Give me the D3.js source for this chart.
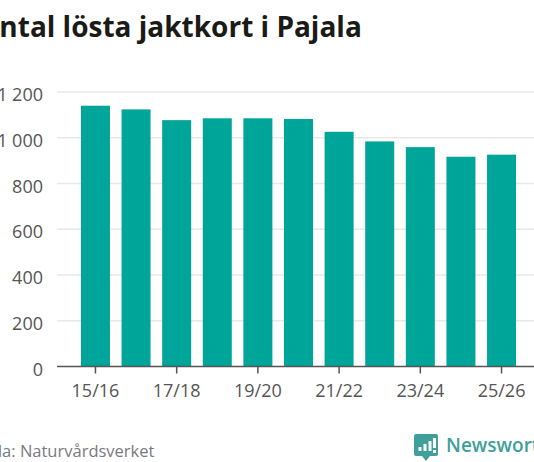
<!DOCTYPE html>
<html>
<head>
<meta charset="utf-8">
<script src="https://cdn.jsdelivr.net/npm/d3@7"></script>
<style>
  html, body { margin: 0; padding: 0; background: #fff; overflow: hidden; }
  text { font-family: "Open Sans", sans-serif; }
</style>
</head>
<body>
<div id="chart"></div>
<script>
var seasons = ['15/16', '16/17', '17/18', '18/19', '19/20', '20/21', '21/22', '22/23', '23/24', '24/25', '25/26']
var tickSeasons = ['15/16', '17/18', '19/20', '21/22', '23/24', '25/26']
var cards = [1140, 1124, 1077, 1085, 1085, 1082, 1026, 984, 959, 917, 926]
var yTicks = [0, 200, 400, 600, 800, 1000, 1200]

var width = 534
var height = 462

var svg = d3
  .select('#chart')
  .append('svg')
  .attr('width', width)
  .attr('height', height)

var x = d3
  .scaleBand()
  .domain(seasons)
  .range([57, 540])
  .paddingInner(0.286)
  .paddingOuter(0.59)

var y = d3
  .scaleLinear()
  .domain([0, 1200])
  .range([366.5, 92])

// gridlines
svg
  .selectAll('.grid')
  .data(yTicks.slice(1))
  .enter()
  .append('line')
  .attr('class', 'grid')
  .attr('x1', 57)
  .attr('x2', width)
  .attr('y1', d => y(d))
  .attr('y2', d => y(d))
  .attr('stroke', '#e9e9e9')
  .attr('stroke-width', 1.5)

// y labels, spaces as thousands separator
svg
  .selectAll('.y-label')
  .data(yTicks)
  .enter()
  .append('text')
  .attr('class', 'y-label')
  .attr('x', 43)
  .attr('y', d => y(d))
  .attr('dy', 9)
  .attr('text-anchor', 'end')
  .attr('font-size', 18)
  .attr('fill', '#555')
  .text(d => d3.format(',')(d).replace(',', ' '))

svg
  .selectAll('.bar')
  .data(cards)
  .enter()
  .append('rect')
  .attr('class', 'bar')
  .attr('x', (d, i) => x(seasons[i]))
  .attr('y', d => y(d))
  .attr('width', x.bandwidth())
  .attr('height', d => y(0) - y(d))
  .attr('fill', '#00a59a')

// bottom axis
var xAxis = d3.axisBottom(x).tickValues(tickSeasons).tickSize(7).tickSizeOuter(0)

var axisG = svg
  .append('g')
  .attr('transform', 'translate(0,' + 366.5 + ')')
  .call(xAxis)

axisG.select('.domain').attr('stroke', '#555').attr('stroke-width', 1.5)
  .attr('d', 'M57,0H' + width)
axisG.selectAll('.tick line').attr('stroke', '#555').attr('stroke-width', 1.5)
axisG
  .selectAll('.tick text')
  .attr('font-family', '"Open Sans", sans-serif')
  .attr('font-size', 18)
  .attr('fill', '#555')
  .attr('y', 18)

svg
  .append('text')
  .attr('x', -20)
  .attr('y', 37)
  .attr('font-size', 28)
  .attr('font-weight', 700)
  .attr('fill', '#1a1a17')
  .text('Antal lösta jaktkort i Pajala')

svg
  .append('text')
  .attr('x', -25.5)
  .attr('y', 457)
  .attr('font-size', 16.5)
  .attr('fill', '#7a7a80')
  .text('Källa: Naturvårdsverket')

// Newsworthy logo
var logo = svg.append('g').attr('transform', 'translate(414,434)')

logo
  .append('path')
  .attr('d', 'M2,0H22Q24,0 24,2V20Q24,22 22,22H16L12,27L8,22H2Q0,22 0,20V2Q0,0 2,0Z')
  .attr('fill', '#3f9f9a')

logo
  .selectAll('.logo-bar')
  .data([[4.5, 13, 4], [9.5, 10, 7], [14.5, 7, 10]])
  .enter()
  .append('rect')
  .attr('class', 'logo-bar')
  .attr('x', d => d[0])
  .attr('y', d => d[1])
  .attr('width', 3)
  .attr('height', d => d[2])
  .attr('fill', '#fff')

logo
  .append('rect')
  .attr('x', 19)
  .attr('y', 4)
  .attr('width', 3)
  .attr('height', 10)
  .attr('fill', '#fff')

logo
  .append('rect')
  .attr('x', 19)
  .attr('y', 16)
  .attr('width', 3)
  .attr('height', 3)
  .attr('fill', '#fff')

svg
  .append('text')
  .attr('x', 446)
  .attr('y', 452)
  .attr('font-size', 19)
  .attr('font-weight', 600)
  .attr('fill', '#3f9f9a')
  .text('Newsworthy')
</script>
</body>
</html>
